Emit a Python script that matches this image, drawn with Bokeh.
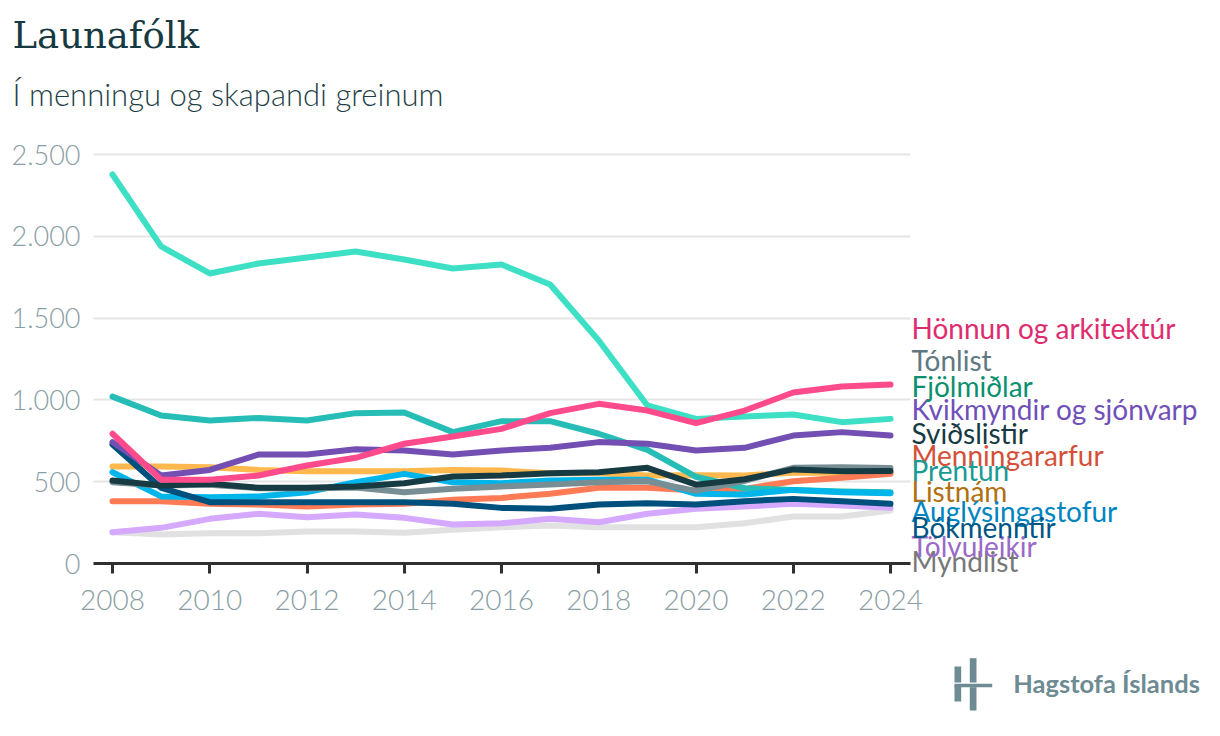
from bokeh.plotting import figure
from bokeh.models import Range1d, FixedTicker, Label, ColumnDataSource, Grid
from bokeh.core.properties import value
from bokeh.embed import file_html
from bokeh.resources import INLINE

years = list(range(2008, 2025))

series_names = ["Myndlist", "Tölvuleikir", "Listnám", "Menningararfur", "Prentun",
                "Auglýsingastofur", "Tónlist", "Bókmenntir", "Kvikmyndir og sjónvarp",
                "Sviðslistir", "Fjölmiðlar", "Hönnun og arkitektúr"]

myndlist = [191, 177, 185, 185, 196, 196, 188, 206, 222, 232, 222, 222, 222, 246, 287, 287, 324]
tolvuleikir = [191, 218, 273, 304, 283, 300, 279, 238, 246, 273, 252, 304, 334, 348, 365, 354, 340]
listnam = [593, 593, 588, 572, 564, 564, 564, 572, 568, 552, 552, 538, 540, 538, 555, 555, 555]
menningararfur = [381, 381, 365, 360, 348, 360, 365, 389, 401, 426, 463, 463, 446, 456, 503, 524, 548]
prentun = [1020, 905, 874, 890, 874, 919, 923, 803, 870, 870, 793, 695, 530, 460, 450, 440, 436]
auglysingastofur = [558, 410, 405, 410, 436, 497, 548, 497, 491, 507, 512, 512, 426, 422, 450, 436, 430]
tonlist = [497, 477, 482, 460, 458, 465, 436, 457, 471, 483, 497, 503, 444, 505, 585, 589, 584]
bokmenntir = [727, 463, 375, 375, 375, 375, 375, 365, 340, 334, 360, 369, 360, 381, 395, 381, 365]
kvikmyndir = [742, 538, 572, 666, 666, 699, 691, 666, 691, 707, 742, 732, 691, 707, 782, 803, 782]
svidslistir = [507, 477, 487, 463, 463, 471, 491, 532, 538, 552, 558, 585, 482, 515, 575, 564, 566]
fjolmidlar = [2378, 1938, 1773, 1834, 1870, 1907, 1858, 1803, 1828, 1705, 1363, 966, 884, 898, 911, 864, 884]
honnun = [793, 512, 512, 538, 599, 646, 732, 776, 823, 919, 976, 935, 858, 935, 1045, 1082, 1094]

series_values = [myndlist, tolvuleikir, listnam, menningararfur, prentun, auglysingastofur,
                 tonlist, bokmenntir, kvikmyndir, svidslistir, fjolmidlar, honnun]

line_colors = ["#e1e1e1", "#d4a9ff", "#ffb84d", "#ff7b55", "#26bdb7", "#00b5ea",
               "#788e95", "#00507e", "#734fb3", "#173b43", "#3ee0c5", "#ff4b8b"]
label_colors = ["#787878", "#9a6ac8", "#b07010", "#d45038", "#1a9a95", "#0085c0",
                "#607880", "#005585", "#7050b8", "#173a42", "#0a9070", "#de2d6e"]
# label baselines (in value units), as placed in the reference
label_y = [-61, 31, 367, 587, 495, 244, 1167, 147, 868, 721, 1008, 1363]

y_ticks = [0, 500, 1000, 1500, 2000, 2500]
y_tick_labels = ["0", "500", "1.000", "1.500", "2.000", "2.500"]
x_ticks = [2008, 2010, 2012, 2014, 2016, 2018, 2020, 2022, 2024]

title_text = "Launafólk"
subtitle_text = "Í menningu og skapandi greinum"
logo_text = "Hagstofa Íslands"

# ---- geometry: canvas px <-> data ----
W, H = 1212, 728
X2008_PX, PX_PER_YEAR = 112.0, 48.625
Y0_PX, PX_PER_UNIT = 563.0, 0.1636
FRAME_L, FRAME_R = 93, 910
BASELINE_FIX = 0.44   # the renderer draws baselines ~0.44em low; compensate

def DX(px):
    return 2008 + (px - X2008_PX) / PX_PER_YEAR

def DY(py):
    return (Y0_PX - py) / PX_PER_UNIT

def TY(py, size):
    return DY(py - BASELINE_FIX * size)

p = figure(width=W, height=H, output_backend="svg", toolbar_location=None,
           x_range=Range1d(DX(0), DX(W)), y_range=Range1d(DY(H), DY(0)),
           min_border=0)
p.outline_line_color = None
p.background_fill_color = "white"
p.border_fill_color = "white"
p.xgrid.grid_line_color = None

# y axis (fixed inside the frame)
yax = p.yaxis[0]
yax.fixed_location = DX(FRAME_L)
yax.ticker = FixedTicker(ticks=y_ticks)
yax.major_label_overrides = {t: l for t, l in zip(y_ticks, y_tick_labels)}
yax.axis_line_color = None
yax.major_tick_line_color = None
yax.minor_tick_line_color = None
yax.major_tick_in = 0
yax.major_tick_out = 0
yax.major_label_standoff = 13
yax.major_label_text_font = "Lato Light"
yax.major_label_text_font_size = "27px"
yax.major_label_text_color = "#8a9ea5"

# x axis (fixed at value 0)
xax = p.xaxis[0]
xax.fixed_location = 0
xax.bounds = (DX(FRAME_L), DX(FRAME_R))
xax.ticker = FixedTicker(ticks=x_ticks)
xax.axis_line_color = "#2f2f2f"
xax.axis_line_width = 3
xax.major_tick_line_color = "#2f2f2f"
xax.major_tick_line_width = 3
xax.major_tick_in = 0
xax.major_tick_out = 10
xax.minor_tick_line_color = None
xax.major_label_standoff = 16
xax.major_label_text_font = "Lato Light"
xax.major_label_text_font_size = "28px"
xax.major_label_text_color = "#8a9ea5"

yg = p.ygrid[0]
yg.grid_line_color = "#e5e5e5"
yg.grid_line_width = 2
if "cross_bounds" in Grid.properties():
    yg.cross_bounds = (DX(FRAME_L), DX(FRAME_R))
else:
    yg.grid_line_color = None
    p.segment(x0=[DX(FRAME_L)] * len(y_ticks), x1=[DX(FRAME_R)] * len(y_ticks),
              y0=y_ticks, y1=y_ticks, line_color="#e5e5e5", line_width=2,
              level="underlay")

for name, vals, lc in zip(series_names, series_values, line_colors):
    src = ColumnDataSource(dict(x=years, y=vals))
    p.line("x", "y", source=src, line_color=lc, line_width=6,
           line_cap="round", line_join="round")

LABEL_SIZE = 28
lab_shift = BASELINE_FIX * LABEL_SIZE / PX_PER_UNIT
lab_src = ColumnDataSource(dict(x=[DX(911)] * len(series_names),
                                y=[v + lab_shift for v in label_y],
                                text=series_names, color=label_colors))
p.text(x="x", y="y", text="text", source=lab_src, text_color="color",
       text_font=value("Lato"), text_font_size=f"{LABEL_SIZE}px",
       text_baseline="alphabetic", text_align="left")

p.add_layout(Label(x=DX(12), y=TY(51.7, 37), text=title_text, text_font="DejaVu Serif",
                   text_font_size="37px", text_color="#173a42",
                   text_baseline="alphabetic", text_align="left"))
p.add_layout(Label(x=DX(12), y=TY(107.3, 31), text=subtitle_text, text_font="Lato Light",
                   text_font_size="31px", text_color="#1f3f47",
                   text_baseline="alphabetic", text_align="left"))
p.add_layout(Label(x=DX(1012.7), y=TY(693.3, 25.5), text=logo_text, text_font="Lato",
                   text_font_style="bold", text_font_size="25.5px", text_color="#6e8a92",
                   text_baseline="alphabetic", text_align="left"))

# logo mark (left, right, top, bottom in canvas px)
logo_l = [954.0, 954.0, 969.3, 969.3, 954.0]
logo_r = [960.7, 960.7, 976.0, 976.0, 991.7]
logo_t = [666.0, 685.0, 657.7, 686.7, 683.3]
logo_b = [682.0, 701.0, 682.0, 710.0, 686.7]
p.quad(left=[DX(v) for v in logo_l], right=[DX(v) for v in logo_r],
       top=[DY(v) for v in logo_t], bottom=[DY(v) for v in logo_b],
       fill_color="#6e8a92", line_color=None)

open("out.html", "w").write(file_html(p, INLINE))
